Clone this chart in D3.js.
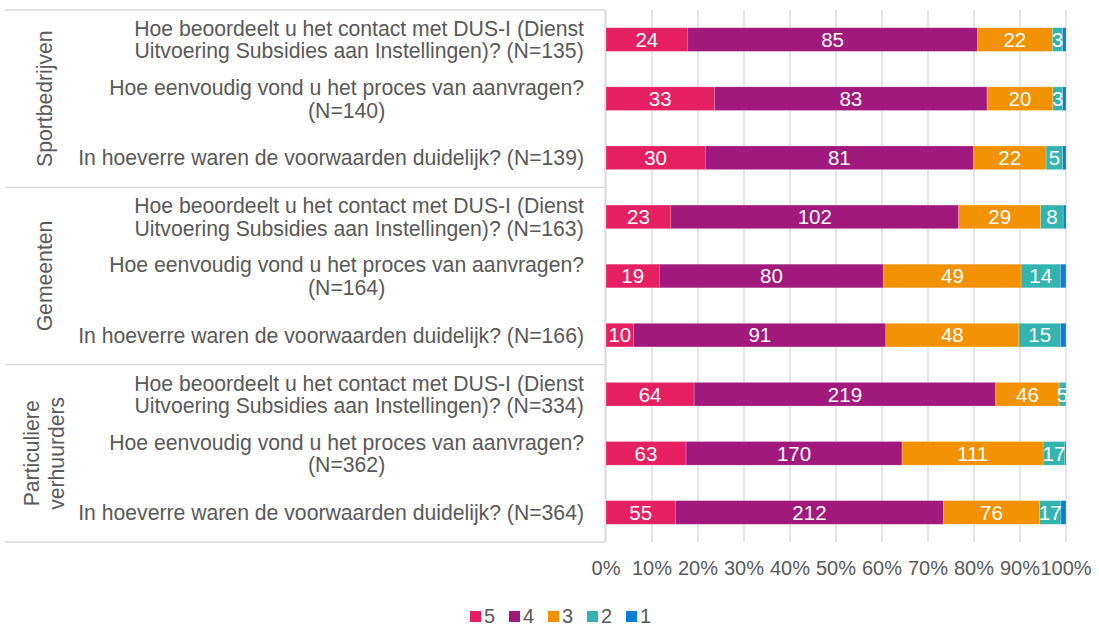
<!DOCTYPE html>
<html>
<head>
<meta charset="utf-8">
<script src="https://cdn.jsdelivr.net/npm/d3@7"></script>
<style>
  html, body { margin: 0; padding: 0; background: #fff; }
  svg { display: block; font-family: 'Liberation Sans', Arial, sans-serif; }
</style>
</head>
<body>
<div id="chart"></div>
<script>
// groups and questions (rows top to bottom)
const groups = [['Sportbedrijven'], ['Gemeenten'], ['Particuliere', 'verhuurders']];
const questions = [
  ['Hoe beoordeelt u het contact met DUS-I (Dienst', 'Uitvoering Subsidies aan Instellingen)?'],
  ['Hoe eenvoudig vond u het proces van aanvragen?'],
  ['In hoeverre waren de voorwaarden duidelijk?'],
];
const respondents = [135, 140, 139, 163, 164, 166, 334, 362, 364];

// answer scores
const keys = ['5', '4', '3', '2', '1'];
const score5 = [24, 33, 30, 23, 19, 10, 64, 63, 55];
const score4 = [85, 83, 81, 102, 80, 91, 219, 170, 212];
const score3 = [22, 20, 22, 29, 49, 48, 46, 111, 76];
const score2 = [3, 3, 5, 8, 14, 15, 5, 17, 17];
const score1 = [1, 1, 1, 1, 2, 2, 0, 1, 4];
const tickValues = [0, 0.1, 0.2, 0.3, 0.4, 0.5, 0.6, 0.7, 0.8, 0.9, 1];

const colors = {
  '5': '#E61F63',
  '4': '#A1197D',
  '3': '#F39200',
  '2': '#33B4B0',
  '1': '#0A7DD6',
};
const Gray = '#595959';
const GridGray = '#D9D9D9';

const width = 1099;
const height = 628;
const plot = { left: 606, right: 1066, top: 10, bottom: 542 };

const svg = d3
  .select('#chart')
  .append('svg')
  .attr('width', width)
  .attr('height', height);

// build rows
const rows = respondents.map((n, i) => {
  const q = questions[i % 3];
  let lines;
  if (q.length === 2) lines = [q[0], q[1] + ' (N=' + n + ')'];
  else if (i % 3 === 1) lines = [q[0], '(N=' + n + ')'];
  else lines = [q[0] + ' (N=' + n + ')'];
  return {
    id: i,
    lines: lines,
    '5': score5[i],
    '4': score4[i],
    '3': score3[i],
    '2': score2[i],
    '1': score1[i],
  };
});

const x = d3.scaleLinear().domain([0, 1]).range([plot.left, plot.right]);
const y = d3
  .scaleBand()
  .domain(rows.map((d) => d.id))
  .range([plot.top, plot.bottom])
  .paddingInner(0.6)
  .paddingOuter(0.3);
const step = y.step();

// gridlines
svg
  .append('g')
  .selectAll('line')
  .data(tickValues)
  .join('line')
  .attr('x1', (d) => x(d))
  .attr('x2', (d) => x(d))
  .attr('y1', plot.top)
  .attr('y2', plot.bottom)
  .attr('stroke', GridGray)
  .attr('stroke-width', 1.3);

// category axis: vertical line + group separators
svg
  .append('line')
  .attr('x1', plot.left - 1)
  .attr('x2', plot.left - 1)
  .attr('y1', plot.top)
  .attr('y2', plot.bottom)
  .attr('stroke', GridGray)
  .attr('stroke-width', 1.3);

const separators = d3.range(groups.length + 1).map((k) => plot.top + k * 3 * step);
svg
  .append('g')
  .selectAll('line')
  .data(separators)
  .join('line')
  .attr('x1', 5)
  .attr('x2', plot.left - 1)
  .attr('y1', (d) => d)
  .attr('y2', (d) => d)
  .attr('stroke', GridGray)
  .attr('stroke-width', 1.3);

// stacked bars (100%)
const series = d3.stack().keys(keys).offset(d3.stackOffsetExpand)(rows);

const bars = svg
  .append('g')
  .selectAll('g')
  .data(series)
  .join('g')
  .attr('fill', (s) => colors[s.key]);

bars
  .selectAll('rect')
  .data((s) => s)
  .join('rect')
  .attr('x', (d) => x(d[0]))
  .attr('y', (d) => y(d.data.id))
  .attr('width', (d) => x(d[1]) - x(d[0]))
  .attr('height', y.bandwidth())
  .attr('stroke', '#fff')
  .attr('stroke-opacity', 0.35)
  .attr('stroke-width', 0.6);

// data labels, clipped to the plot area
svg
  .append('clipPath')
  .attr('id', 'plotClip')
  .append('rect')
  .attr('x', plot.left)
  .attr('y', plot.top)
  .attr('width', plot.right - plot.left)
  .attr('height', plot.bottom - plot.top);

const labels = svg.append('g').attr('clip-path', 'url(#plotClip)');
series
  .filter((s) => s.key !== '1')
  .forEach((s) => {
    labels
      .append('g')
      .selectAll('text')
      .data(s.filter((d) => d.data[s.key] > 0))
      .join('text')
      .attr('x', (d) => (x(d[0]) + x(d[1])) / 2)
      .attr('y', (d) => y(d.data.id) + y.bandwidth() / 2)
      .attr('dy', '0.36em')
      .attr('text-anchor', 'middle')
      .attr('fill', '#fff')
      .style('font-size', '20.5px')
      .text((d) => d.data[s.key]);
  });

// question labels: block right-aligned, lines centred
const labelRight = 584;
const lineGap = 22.5;
const qLabels = svg.append('g').style('font-size', '21.2px').attr('fill', Gray);
rows.forEach((r) => {
  const g = qLabels.append('g');
  const cy = y(r.id) + y.bandwidth() / 2;
  const texts = g
    .selectAll('text')
    .data(r.lines)
    .join('text')
    .attr('text-anchor', 'middle')
    .attr('dy', '0.36em')
    .attr('y', (d, i) => cy + (i - (r.lines.length - 1) / 2) * lineGap)
    .text((d) => d);
  let maxW = 0;
  texts.each(function () {
    maxW = Math.max(maxW, this.getComputedTextLength());
  });
  texts.attr('x', labelRight - maxW / 2);
});

// group labels (rotated)
const gLabels = svg.append('g').style('font-size', '21.2px').attr('fill', Gray);
groups.forEach((lines, k) => {
  const cy = (separators[k] + separators[k + 1]) / 2;
  const cx = 44;
  gLabels
    .append('g')
    .attr('transform', `translate(${cx},${cy}) rotate(-90)`)
    .selectAll('text')
    .data(lines)
    .join('text')
    .attr('text-anchor', 'middle')
    .attr('dy', '0.36em')
    .attr('y', (d, i) => (i - (lines.length - 1) / 2) * 25)
    .text((d) => d);
});

// x axis tick labels
svg
  .append('g')
  .style('font-size', '20px')
  .attr('fill', Gray)
  .selectAll('text')
  .data(tickValues)
  .join('text')
  .attr('x', (d) => x(d))
  .attr('y', 575)
  .attr('text-anchor', 'middle')
  .text(d3.format('.0%'));

// legend
const legend = svg
  .append('g')
  .style('font-size', '20px')
  .selectAll('g')
  .data(keys)
  .join('g')
  .attr('transform', (d, i) => `translate(${470 + i * 39},611)`);

legend
  .append('rect')
  .attr('width', 11)
  .attr('height', 11)
  .attr('fill', (d) => colors[d]);

legend
  .append('text')
  .attr('x', 14)
  .attr('y', 12)
  .attr('fill', Gray)
  .text((d) => d);
</script>
</body>
</html>
